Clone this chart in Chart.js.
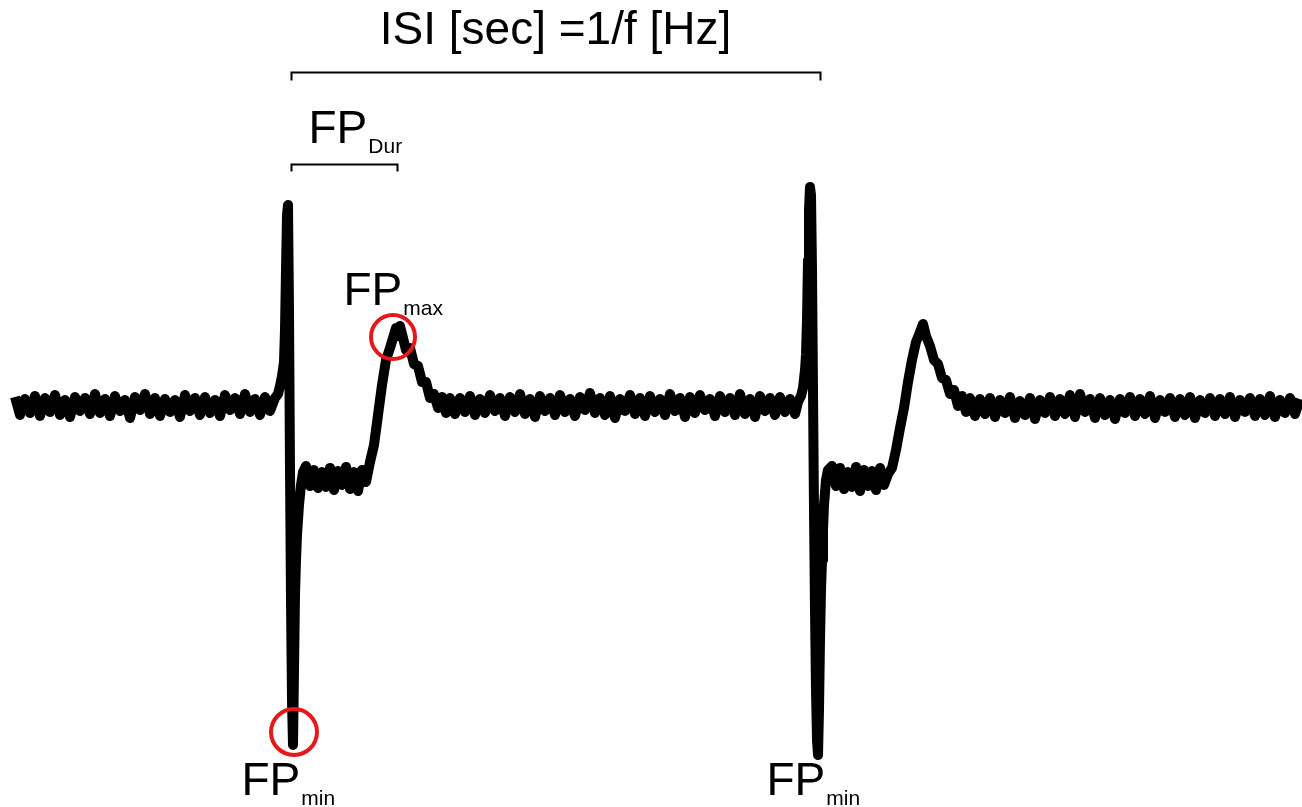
<!DOCTYPE html>
<html>
<head>
<meta charset="utf-8">
<script src="https://cdn.jsdelivr.net/npm/chart.js@4/dist/chart.umd.min.js"></script>
<style>
  html, body { margin: 0; padding: 0; background: #ffffff; }
  #wrap { position: relative; width: 1302px; height: 807px; }
</style>
</head>
<body>
<div id="wrap"><canvas id="c"></canvas></div>
<script>
// ---- Data (time in ms, field potential in arbitrary µV units, baseline = 0) ----
const timeMs = [
  15,20,25,30,35,40,45,50,55,60,65,70,75,80,85,90,95,100,105,110,115,120,125,130,135,140,145,150,155,160,
  165,170,175,180,185,190,195,200,205,210,215,220,225,230,235,240,245,250,255,260,265,270,275,
  278,280,282,284,285,286,287,288,289,290,291,292,293,294,295,296,297,299,301,303,
  306,310,314,318,322,326,330,334,338,342,346,350,354,358,362,366,
  370,374,378,382,386,390,393,396,398,400,403,406,410,414,418,422,426,430,434,438,442,446,450,
  455,460,465,470,475,480,485,490,495,500,505,510,515,520,525,530,535,540,545,550,555,560,565,570,575,
  580,585,590,595,600,605,610,615,620,625,630,635,640,645,650,655,660,665,670,675,680,685,690,695,700,
  705,710,715,720,725,730,735,740,745,750,755,760,765,770,775,780,785,790,795,
  798,801,803,805,806,807,808,809,810,811,812,813,814,815,816,817,818,819,820,821,822,823,824,826,828,
  832,836,840,844,848,852,856,860,864,868,872,876,880,884,888,892,896,900,904,908,912,916,920,923,926,
  930,934,938,942,946,950,954,958,962,966,970,
  975,980,985,990,995,1000,1005,1010,1015,1020,1025,1030,1035,1040,1045,1050,1055,1060,1065,1070,
  1075,1080,1085,1090,1095,1100,1105,1110,1115,1120,1125,1130,1135,1140,1145,1150,1155,1160,1165,1170,
  1175,1180,1185,1190,1195,1200,1205,1210,1215,1220,1225,1230,1235,1240,1245,1250,1255,1260,1265,1270,
  1275,1280,1285,1290,1295,1300
];
const fieldPotential = [
  13,-5,11,-3,14,-6,12,-2,15,-5,10,-7,13,-1,12,-4,16,-3,11,-6,14,-1,10,-8,13,0,16,-4,12,-6,
  11,-2,10,-7,15,-1,12,-5,13,-3,10,-6,15,0,12,-4,16,-2,11,-5,13,-1,12,
  16,24,34,48,80,140,195,205,100,-60,-190,-290,-335,-260,-185,-150,-125,-95,-75,-62,
  -56,-76,-60,-78,-62,-77,-58,-80,-61,-75,-57,-79,-62,-81,-60,-72,
  -52,-35,-5,25,50,62,72,82,74,84,72,60,62,46,44,28,28,12,16,2,13,-3,12,
  -4,12,-2,14,-5,11,-3,15,-1,12,-6,13,-2,16,-4,11,-7,14,-1,12,-5,15,-2,11,-6,
  13,0,17,-3,12,-5,14,-8,11,-1,15,-4,12,-6,14,-2,11,-5,16,-1,12,-7,13,-3,15,
  0,11,-6,14,-2,12,-5,16,-4,11,-7,14,-1,12,-5,13,-2,11,-4,
  8,14,22,40,55,90,150,200,223,215,140,20,-100,-200,-280,-330,-345,-300,-230,-180,-150,-120,-95,-70,-60,
  -56,-76,-58,-79,-62,-77,-57,-81,-60,-76,-61,-80,-58,-75,-64,-58,-40,-18,2,28,50,68,78,86,74,
  64,50,46,32,30,16,20,4,14,-2,12,
  -6,11,-4,12,-7,10,-3,13,-8,9,-5,12,-9,10,-3,13,-6,11,-4,15,
  -7,16,-2,11,-8,12,-5,10,-9,11,-3,13,-6,11,-4,14,-8,10,-2,12,
  -7,11,-5,13,-8,10,-3,12,-6,11,-4,13,-7,10,-2,12,-6,11,-5,14,
  -7,10,-3,12,-4,11
];

// Annotation texts
const isiLabel = 'ISI [sec] =1/f [Hz]';
const fpMain = 'FP';
const fpSubs = ['Dur', 'max', 'min', 'min'];

// ---- Chart ----
const points = timeMs.map((t, i) => ({ x: t, y: fieldPotential[i] }));

const annotationPlugin = {
  id: 'fpAnnotations',
  afterDatasetsDraw(chart, args, opts) {
    const ctx = chart.ctx;
    const xs = chart.scales.x, ys = chart.scales.y;
    const px = v => xs.getPixelForValue(v);
    const py = v => ys.getPixelForValue(v);
    ctx.save();

    // brackets
    ctx.strokeStyle = '#000';
    ctx.lineWidth = 2;
    opts.brackets.forEach(b => {
      const x1 = Math.round(px(b.from)) + 0.5, x2 = Math.round(px(b.to)) + 0.5;
      const y = Math.round(py(b.level)) + 0.5;
      ctx.beginPath();
      ctx.moveTo(x1, y + b.tick);
      ctx.lineTo(x1, y);
      ctx.lineTo(x2, y);
      ctx.lineTo(x2, y + b.tick);
      ctx.stroke();
    });

    // circles
    ctx.strokeStyle = opts.circleColor;
    ctx.lineWidth = 4;
    opts.circles.forEach(c => {
      ctx.beginPath();
      ctx.arc(px(c.x), py(c.y), c.r, 0, Math.PI * 2);
      ctx.stroke();
    });

    // texts
    ctx.fillStyle = '#000';
    ctx.textBaseline = 'alphabetic';
    const fam = '"Liberation Sans", Arial, Helvetica, sans-serif';
    ctx.font = opts.title.size + 'px ' + fam;
    ctx.textAlign = 'center';
    ctx.fillText(isiLabel, px(opts.title.x), py(opts.title.y));
    ctx.textAlign = 'left';
    opts.fpLabels.forEach((l, i) => {
      ctx.font = l.size + 'px ' + fam;
      const x0 = px(l.x);
      ctx.fillText(fpMain, x0, py(l.y));
      const w = ctx.measureText(fpMain).width;
      ctx.font = l.subSize + 'px ' + fam;
      ctx.fillText(fpSubs[i], x0 + w + 1, py(l.subY));
    });
    ctx.restore();
  }
};

new Chart(document.getElementById('c'), {
  type: 'line',
  data: {
    datasets: [{
      data: points,
      borderColor: '#000000',
      borderWidth: 10,
      borderJoinStyle: 'round',
      pointRadius: 0,
      tension: 0,
      fill: false
    }]
  },
  options: {
    responsive: true,
    maintainAspectRatio: false,
    animation: false,
    layout: { padding: 0 },
    plugins: {
      legend: { display: false },
      tooltip: { enabled: false },
      fpAnnotations: {
        circleColor: '#e3191c',
        brackets: [
          { from: 291, to: 820, level: 338, tick: 8 },
          { from: 291, to: 397, level: 246, tick: 7 }
        ],
        circles: [
          { x: 294, y: -322, r: 23 },
          { x: 393, y: 73, r: 22 }
        ],
        title: { x: 555.5, y: 366, size: 46 },
        fpLabels: [
          { x: 308.5, y: 267, subY: 257, size: 46, subSize: 21 },
          { x: 343.5, y: 105, subY: 95, size: 46, subSize: 21 },
          { x: 241.5, y: -385, subY: -395, size: 46, subSize: 21 },
          { x: 766.5, y: -385, subY: -395, size: 46, subSize: 21 }
        ]
      }
    },
    scales: {
      x: { type: 'linear', min: 0, max: 1302, display: false },
      y: { type: 'linear', min: -397, max: 410, display: false }
    }
  },
  plugins: [annotationPlugin]
});
</script>
</body>
</html>
